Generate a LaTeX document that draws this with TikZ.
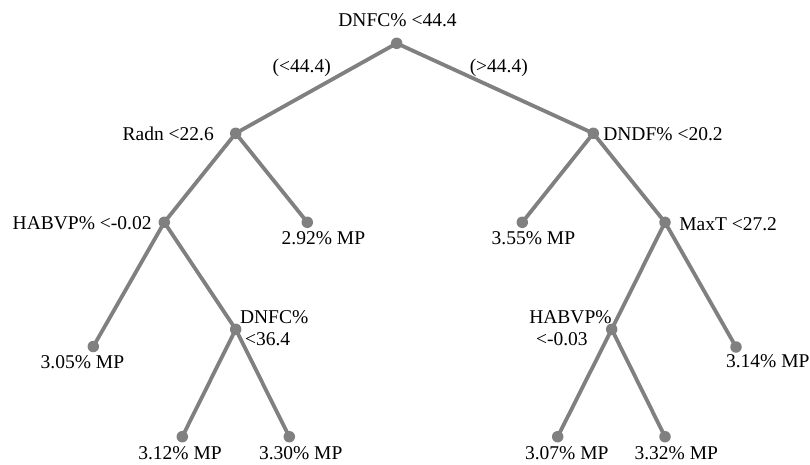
\documentclass[tikz,border=0pt]{standalone}
\usepackage{fontspec}
\setmainfont{Liberation Serif}
\usetikzlibrary{backgrounds}
\definecolor{treegray}{RGB}{128,128,128}
\tikzset{
  dot/.style={circle,fill=treegray,draw=none,minimum size=11.5pt,inner sep=0pt},
  branch/.style={draw=treegray,line width=3.8pt},
  lbl/.style={anchor=base west,inner sep=0pt,outer sep=0pt,font=\fontsize{19.5pt}{21.7pt}\selectfont,text=black},
  lblc/.style={anchor=base,inner sep=0pt,outer sep=0pt,font=\fontsize{19.5pt}{21.7pt}\selectfont,text=black}
}
\begin{document}
\begin{tikzpicture}[x=1pt,y=-1pt]
\useasboundingbox (0,0) rectangle (810,464);
% dots
\node[dot] (root) at (396.7,43.3) {};
\node[dot] (radn) at (235.7,133.3) {};
\node[dot] (dndf) at (593.3,133.3) {};
\node[dot] (hab1) at (164.3,222.3) {};
\node[dot] (l292) at (307.3,222.3) {};
\node[dot] (l355) at (522.3,222.3) {};
\node[dot] (maxt) at (665,222.3) {};
\node[dot] (l305) at (93.3,346.5) {};
\node[dot] (dnfc2) at (235.7,329.3) {};
\node[dot] (hab2) at (611.7,329.3) {};
\node[dot] (l314) at (736,347) {};
\node[dot] (l312) at (182.3,436.7) {};
\node[dot] (l330) at (289.3,436.7) {};
\node[dot] (l307) at (557.7,436.7) {};
\node[dot] (l332) at (665,436.7) {};
% branches
\begin{pgfonlayer}{background}
\draw[branch] (root.center) -- (radn.center);
\draw[branch] (root.center) -- (dndf.center);
\draw[branch] (radn.center) -- (hab1.center);
\draw[branch] (radn.center) -- (l292.center);
\draw[branch] (dndf.center) -- (l355.center);
\draw[branch] (dndf.center) -- (maxt.center);
\draw[branch] (hab1.center) -- (l305.center);
\draw[branch] (hab1.center) -- (dnfc2.center);
\draw[branch] (maxt.center) -- (hab2.center);
\draw[branch] (maxt.center) -- (l314.center);
\draw[branch] (dnfc2.center) -- (l312.center);
\draw[branch] (dnfc2.center) -- (l330.center);
\draw[branch] (hab2.center) -- (l307.center);
\draw[branch] (hab2.center) -- (l332.center);
\end{pgfonlayer}
% labels
\node[lblc] (troot) at (397.5,26.6) {DNFC\% <44.4};
\node[lblc] (tlt) at (301.7,72.6) {(<44.4)};
\node[lblc] (tgt) at (498.8,72.6) {(>44.4)};
\node[lbl] (tradn) at (122.7,140) {Radn <22.6};
\node[lbl] (tdndf) at (603.3,140) {DNDF\% <20.2};
\node[lbl] (thab1) at (12.7,229.3) {HABVP\% <-0.02};
\node[lbl] (tmaxt) at (679.3,230) {MaxT <27.2};
\node[lbl] (t292) at (281.7,244.8) {2.92\% MP};
\node[lbl] (t355) at (491.7,244.8) {3.55\% MP};
\node[lbl] (tdnfc2a) at (240,323.3) {DNFC\%};
\node[lbl] (tdnfc2b) at (245,345) {<36.4};
\node[lbl] (thab2a) at (529.3,323.3) {HABVP\%};
\node[lbl] (thab2b) at (536,345) {<-0.03};
\node[lbl] (t305) at (40.7,368.3) {3.05\% MP};
\node[lbl] (t314) at (726,367.3) {3.14\% MP};
\node[lbl] (t312) at (138.3,459.3) {3.12\% MP};
\node[lbl] (t330) at (259,459.3) {3.30\% MP};
\node[lbl] (t307) at (525,459.3) {3.07\% MP};
\node[lbl] (t332) at (634.5,459.3) {3.32\% MP};
\end{tikzpicture}
\end{document}
